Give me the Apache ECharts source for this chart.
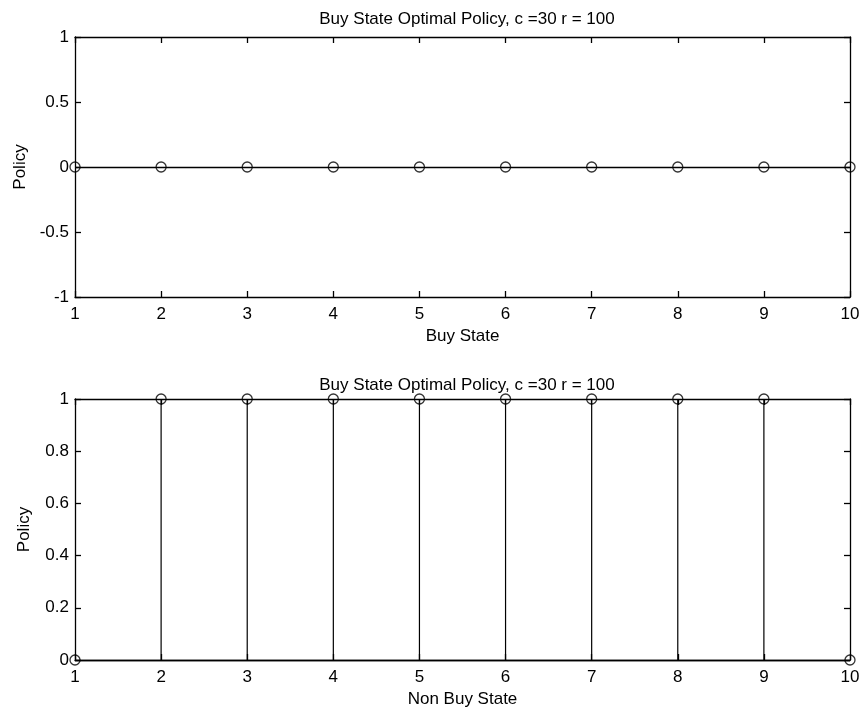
<!DOCTYPE html>
<html>
<head>
<meta charset="utf-8">
<script src="https://cdn.jsdelivr.net/npm/echarts@6/dist/echarts.min.js"></script>
<style>
html,body{margin:0;padding:0;background:#fff;}
#chart{width:863px;height:709px;}
</style>
</head>
<body>
<div id="chart"></div>
<script>
// ---- data ----
var states = [1, 2, 3, 4, 5, 6, 7, 8, 9, 10];
var buyPolicy = [0, 0, 0, 0, 0, 0, 0, 0, 0, 0];
var nonBuyPolicy = [0, 1, 1, 1, 1, 1, 1, 1, 1, 0];
var titleText = 'Buy State Optimal Policy, c =30 r = 100';
var topXName = 'Buy State';
var bottomXName = 'Non Buy State';
var yName = 'Policy';

var FONT = 'Liberation Sans, Arial, Helvetica, sans-serif';
var FS = 17;
var LW = 1.3;

function pairs(xs, ys) { return xs.map(function (x, i) { return [x, ys[i]]; }); }

var chart = echarts.init(document.getElementById('chart'), null, { renderer: 'canvas' });

function xAxisMain(gridIndex, name) {
  return {
    type: 'value', gridIndex: gridIndex, min: 1, max: 10, interval: 1,
    name: name, nameLocation: 'middle', nameGap: 31,
    nameTextStyle: { color: '#000', fontSize: FS, fontFamily: FONT },
    axisLine: { show: true, onZero: false, lineStyle: { color: '#000', width: LW } },
    axisTick: { show: true, inside: true, length: 6, lineStyle: { color: '#000', width: LW } },
    axisLabel: { color: '#000', fontSize: FS, fontFamily: FONT, margin: 9 },
    splitLine: { show: false }
  };
}
function xAxisTop(gridIndex) {
  return {
    type: 'value', gridIndex: gridIndex, min: 1, max: 10, interval: 1, position: 'top',
    axisLine: { show: true, onZero: false, lineStyle: { color: '#000', width: LW } },
    axisTick: { show: true, inside: true, length: 6, lineStyle: { color: '#000', width: LW } },
    axisLabel: { show: false }, splitLine: { show: false }
  };
}
function yAxisMain(gridIndex, min, max, interval) {
  return {
    type: 'value', gridIndex: gridIndex, min: min, max: max, interval: interval,
    name: yName, nameLocation: 'middle', nameGap: 42,
    nameTextStyle: { color: '#000', fontSize: FS, fontFamily: FONT },
    axisLine: { show: true, onZero: false, lineStyle: { color: '#000', width: LW } },
    axisTick: { show: true, inside: true, length: 6, lineStyle: { color: '#000', width: LW } },
    axisLabel: { color: '#000', fontSize: FS, fontFamily: FONT, margin: 6 },
    splitLine: { show: false }
  };
}
function yAxisRight(gridIndex, min, max, interval) {
  return {
    type: 'value', gridIndex: gridIndex, min: min, max: max, interval: interval, position: 'right',
    axisLine: { show: true, onZero: false, lineStyle: { color: '#000', width: LW } },
    axisTick: { show: true, inside: true, length: 6, lineStyle: { color: '#000', width: LW } },
    axisLabel: { show: false }, splitLine: { show: false }
  };
}

function stemSeries(xi, yi, data) {
  return {
    type: 'custom', xAxisIndex: xi, yAxisIndex: yi, data: data, silent: true, z: 3,
    renderItem: function (params, api) {
      var x = api.value(0), y = api.value(1);
      var p0 = api.coord([x, 0]), p1 = api.coord([x, y]);
      return { type: 'line', shape: { x1: p0[0], y1: p0[1], x2: p1[0], y2: p1[1] },
               style: { stroke: '#000', lineWidth: 1.2 } };
    },
    markLine: {
      silent: true, symbol: ['none', 'none'], label: { show: false },
      lineStyle: { color: '#000', width: LW, type: 'solid' },
      data: [{ yAxis: 0 }]
    }
  };
}
function markerSeries(xi, yi, data) {
  return {
    type: 'scatter', xAxisIndex: xi, yAxisIndex: yi, data: data, silent: true, z: 4,
    symbol: 'circle', symbolSize: 10,
    itemStyle: { color: 'rgba(0,0,0,0)', borderColor: '#000', borderWidth: 1.3 }
  };
}

var titleStyle = { color: '#000', fontSize: FS, fontWeight: 'normal', fontFamily: FONT };

chart.setOption({
  animation: false,
  backgroundColor: '#fff',
  title: [
    { text: titleText, left: 462, top: 6, textAlign: 'center', textStyle: titleStyle },
    { text: titleText, left: 462, top: 372, textAlign: 'center', textStyle: titleStyle }
  ],
  grid: [
    { left: 75, right: 13, top: 37, height: 260 },
    { left: 75, right: 13, top: 399, height: 261 }
  ],
  xAxis: [xAxisMain(0, topXName), xAxisTop(0), xAxisMain(1, bottomXName), xAxisTop(1)],
  yAxis: [yAxisMain(0, -1, 1, 0.5), yAxisRight(0, -1, 1, 0.5), yAxisMain(1, 0, 1, 0.2), yAxisRight(1, 0, 1, 0.2)],
  series: [
    stemSeries(0, 0, pairs(states, buyPolicy)),
    markerSeries(0, 0, pairs(states, buyPolicy)),
    stemSeries(2, 2, pairs(states, nonBuyPolicy)),
    markerSeries(2, 2, pairs(states, nonBuyPolicy))
  ]
});
</script>
</body>
</html>
